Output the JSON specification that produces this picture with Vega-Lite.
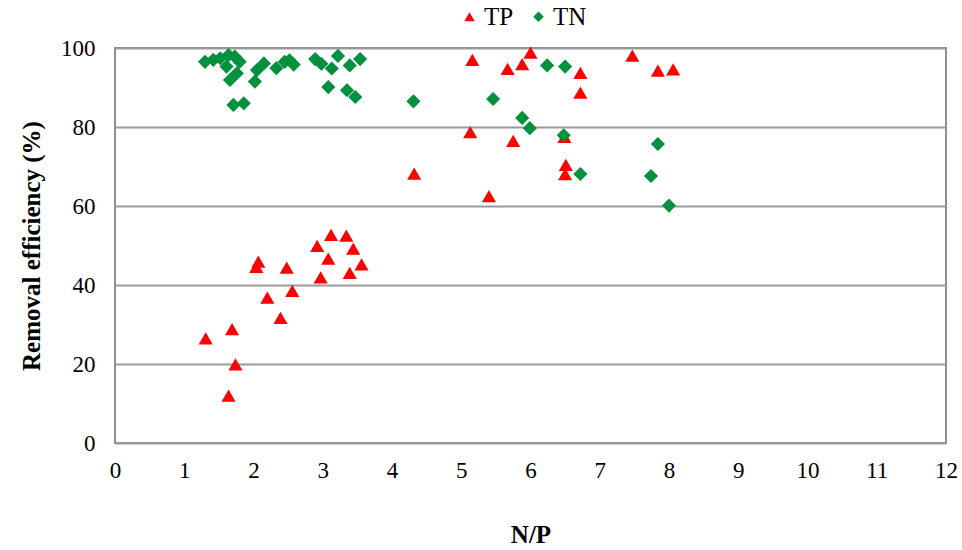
{
  "$schema": "https://vega.github.io/schema/vega-lite/v6.json",
  "width": 831,
  "height": 395,
  "autosize": "none",
  "padding": {"left": 115, "top": 48, "right": 16, "bottom": 107},
  "background": "white",
  "config": {
    "view": {"stroke": "#8f8f8f", "strokeWidth": 2},
    "font": "Liberation Serif"
  },
  "data": {
    "values": [
      {"s": "TP", "x": 1.31, "y": 26.5},
      {"s": "TP", "x": 1.64, "y": 12.0},
      {"s": "TP", "x": 1.69, "y": 28.8},
      {"s": "TP", "x": 1.74, "y": 19.9},
      {"s": "TP", "x": 2.04, "y": 44.6},
      {"s": "TP", "x": 2.07, "y": 45.9},
      {"s": "TP", "x": 2.20, "y": 36.8},
      {"s": "TP", "x": 2.39, "y": 31.7},
      {"s": "TP", "x": 2.48, "y": 44.4},
      {"s": "TP", "x": 2.56, "y": 38.5},
      {"s": "TP", "x": 2.92, "y": 49.9},
      {"s": "TP", "x": 2.97, "y": 41.9},
      {"s": "TP", "x": 3.08, "y": 46.7},
      {"s": "TP", "x": 3.12, "y": 52.7},
      {"s": "TP", "x": 3.34, "y": 52.5},
      {"s": "TP", "x": 3.44, "y": 49.2},
      {"s": "TP", "x": 3.39, "y": 43.1},
      {"s": "TP", "x": 3.56, "y": 45.2},
      {"s": "TP", "x": 4.32, "y": 68.2},
      {"s": "TP", "x": 5.13, "y": 78.7},
      {"s": "TP", "x": 5.16, "y": 97.0},
      {"s": "TP", "x": 5.40, "y": 62.5},
      {"s": "TP", "x": 5.67, "y": 94.7},
      {"s": "TP", "x": 5.75, "y": 76.5},
      {"s": "TP", "x": 5.88, "y": 95.9},
      {"s": "TP", "x": 6.00, "y": 98.8},
      {"s": "TP", "x": 6.49, "y": 77.5},
      {"s": "TP", "x": 6.51, "y": 70.4},
      {"s": "TP", "x": 6.50, "y": 68.1},
      {"s": "TP", "x": 6.72, "y": 93.7},
      {"s": "TP", "x": 6.72, "y": 88.7},
      {"s": "TP", "x": 7.47, "y": 98.1},
      {"s": "TP", "x": 7.84, "y": 94.3},
      {"s": "TP", "x": 8.06, "y": 94.6},
      {"s": "TN", "x": 1.30, "y": 96.5},
      {"s": "TN", "x": 1.42, "y": 97.0},
      {"s": "TN", "x": 1.52, "y": 97.4},
      {"s": "TN", "x": 1.64, "y": 98.2},
      {"s": "TN", "x": 1.73, "y": 97.8},
      {"s": "TN", "x": 1.80, "y": 96.5},
      {"s": "TN", "x": 1.61, "y": 95.3},
      {"s": "TN", "x": 1.66, "y": 91.9},
      {"s": "TN", "x": 1.76, "y": 93.6},
      {"s": "TN", "x": 1.71, "y": 85.6},
      {"s": "TN", "x": 1.86, "y": 86.0},
      {"s": "TN", "x": 2.02, "y": 91.5},
      {"s": "TN", "x": 2.05, "y": 94.4},
      {"s": "TN", "x": 2.15, "y": 96.1},
      {"s": "TN", "x": 2.33, "y": 94.9},
      {"s": "TN", "x": 2.45, "y": 96.5},
      {"s": "TN", "x": 2.52, "y": 96.9},
      {"s": "TN", "x": 2.58, "y": 95.8},
      {"s": "TN", "x": 2.89, "y": 97.2},
      {"s": "TN", "x": 2.98, "y": 96.0},
      {"s": "TN", "x": 3.22, "y": 98.0},
      {"s": "TN", "x": 3.13, "y": 94.8},
      {"s": "TN", "x": 3.39, "y": 95.6},
      {"s": "TN", "x": 3.54, "y": 97.2},
      {"s": "TN", "x": 3.08, "y": 90.1},
      {"s": "TN", "x": 3.35, "y": 89.3},
      {"s": "TN", "x": 3.47, "y": 87.6},
      {"s": "TN", "x": 4.31, "y": 86.5},
      {"s": "TN", "x": 5.46, "y": 87.1},
      {"s": "TN", "x": 5.88, "y": 82.3},
      {"s": "TN", "x": 5.99, "y": 79.7},
      {"s": "TN", "x": 6.24, "y": 95.6},
      {"s": "TN", "x": 6.50, "y": 95.3},
      {"s": "TN", "x": 6.48, "y": 77.9},
      {"s": "TN", "x": 6.72, "y": 68.1},
      {"s": "TN", "x": 7.74, "y": 67.6},
      {"s": "TN", "x": 7.84, "y": 75.7},
      {"s": "TN", "x": 8.00, "y": 60.1}
    ]
  },
  "mark": {"type": "point", "filled": true, "opacity": 1, "size": 200},
  "encoding": {
    "x": {
      "field": "x", "type": "quantitative",
      "scale": {"domain": [0, 12], "nice": false, "zero": true},
      "axis": {
        "values": [0,1,2,3,4,5,6,7,8,9,10,11,12],
        "title": "N/P",
        "titleFont": "Liberation Serif", "titleFontSize": 25, "titleFontWeight": "bold", "titleColor": "black",
        "titlePadding": 40,
        "labelFont": "Liberation Serif", "labelFontSize": 23, "labelColor": "black",
        "labelPadding": 16, "ticks": false, "domain": false, "grid": false,
        "labelFlush": false
      }
    },
    "y": {
      "field": "y", "type": "quantitative",
      "scale": {"domain": [0, 100], "nice": false},
      "axis": {
        "values": [0,20,40,60,80,100],
        "title": "Removal efficiency (%)",
        "titleFont": "Liberation Serif", "titleFontSize": 25, "titleFontWeight": "bold", "titleColor": "black",
        "titlePadding": 16,
        "labelFont": "Liberation Serif", "labelFontSize": 23, "labelColor": "black",
        "labelPadding": 20, "ticks": false, "domain": false,
        "grid": true, "gridColor": "#9a9a9a", "gridWidth": 2,
        "labelFlush": false
      }
    },
    "color": {
      "field": "s", "type": "nominal",
      "scale": {"domain": ["TP", "TN"], "range": ["#ff0000", "#00913f"]},
      "legend": {
        "orient": "none", "direction": "horizontal", "title": null,
        "legendX": 342, "legendY": -44,
        "labelFont": "Liberation Serif", "labelFontSize": 25, "labelColor": "black",
        "symbolSize": 110, "symbolOpacity": 1, "columnPadding": 12, "labelOffset": 2
      }
    },
    "shape": {
      "field": "s", "type": "nominal",
      "scale": {"domain": ["TP", "TN"], "range": ["triangle-up", "diamond"]},
      "legend": null
    }
  }
}
